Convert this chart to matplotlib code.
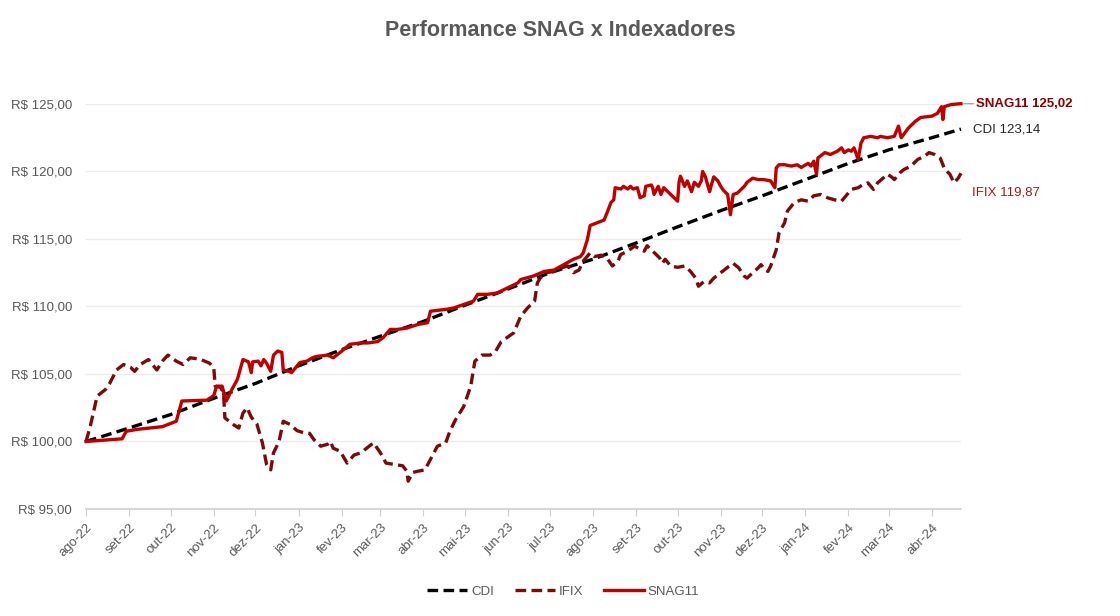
import numpy as np
import pandas as pd
import matplotlib
matplotlib.use("Agg")
from matplotlib import pyplot as plt

START = pd.Timestamp("2022-08-01")

# ---- dados ----
# dias desde 01/08/2022
cdi_days = [0, 31, 61, 92, 122, 153, 184, 212, 243, 273, 304, 334, 365, 396,
            426, 457, 487, 518, 549, 578, 609, 630]
cdi_vals = [100.0, 101.0, 102.0, 103.2, 104.3, 105.6, 106.8, 107.8, 108.9, 110.1,
            111.3, 112.5, 113.5, 114.7, 115.9, 117.1, 118.2, 119.4, 120.6, 121.6,
            122.5, 123.14]

ifix_days = [0, 3, 8, 14, 17, 22, 27, 32, 35, 39, 45, 47, 51, 55, 59, 65, 70, 75,
             82, 89, 92, 93, 97, 99, 100, 106, 110, 113, 116, 119, 123, 127, 130,
             133, 135, 139, 142, 147, 152, 157, 161, 164, 169, 174, 176, 178, 183,
             188, 193, 198, 202, 207, 212, 216, 222, 228, 231, 232, 235, 239, 244,
             248, 253, 259, 262, 266, 272, 277, 280, 285, 291, 295, 299, 306, 308,
             313, 318, 323, 325, 327, 331, 337, 342, 347, 351, 355, 358, 363, 366,
             371, 375, 379, 383, 385, 390, 395, 398, 402, 404, 407, 409, 413, 415,
             417, 421, 426, 431, 433, 436, 439, 441, 445, 449, 452, 457, 462, 466,
             470, 474, 476, 480, 484, 486, 489, 491, 493, 497, 499, 503, 505, 510,
             515, 520, 524, 529, 534, 539, 544, 546, 551, 556, 559, 563, 567, 570,
             575, 577, 580, 582, 586, 589, 594, 599, 604, 607, 611, 615, 617, 618,
             622, 625, 628, 630]
ifix_vals = [100.0, 101.1, 103.36, 103.85, 104.3, 105.3, 105.7, 105.5, 105.2, 105.7,
             106.07, 105.8, 105.3, 105.95, 106.4, 105.95, 105.7, 106.2, 106.1, 105.8,
             105.46, 104.1, 104.0, 103.6, 101.75, 101.26, 101.0, 102.1, 102.5, 101.8,
             101.3, 99.9, 98.3, 97.9, 99.16, 100.0, 101.5, 101.26, 100.8, 100.64,
             100.6, 100.15, 99.65, 99.8, 100.0, 99.5, 99.28, 98.4, 99.0, 99.16, 99.5,
             99.9, 99.16, 98.4, 98.3, 98.2, 97.8, 97.06, 97.7, 97.8, 97.9, 98.67,
             99.65, 99.9, 100.76, 101.6, 102.6, 104.1, 105.95, 106.4, 106.4, 106.7,
             107.4, 107.9, 108.05, 109.28, 109.9, 110.4, 111.75, 112.1, 112.5, 112.6,
             112.86, 113.0, 112.5, 112.7, 113.36, 113.97, 113.7, 113.8, 113.6, 113.0,
             113.36, 113.85, 114.1, 114.47, 114.3, 114.1, 114.5, 114.2, 114.0, 113.6,
             113.2, 113.5, 113.0, 112.9, 113.0, 112.86, 112.5, 112.1, 111.5, 111.85,
             111.75, 112.1, 112.5, 112.9, 113.2, 112.86, 112.25, 112.1, 112.5, 112.86,
             113.1, 112.7, 112.6, 113.0, 114.2, 115.46, 116.2, 117.06, 117.7, 117.9,
             117.8, 118.2, 118.3, 118.05, 117.9, 117.8, 118.05, 118.67, 118.8, 119.0,
             119.16, 118.67, 119.16, 119.6, 119.8, 119.6, 119.4, 119.9, 120.15, 120.4,
             120.9, 121.14, 121.4, 121.26, 121.0, 120.5, 120.2, 119.8, 119.16, 119.5,
             119.87]

snag_days = [0, 26, 29, 37, 55, 59, 65, 69, 87, 92, 94, 98, 101, 105, 109, 113, 117,
             119, 120, 124, 126, 128, 130, 133, 135, 138, 141, 142, 146, 148, 154,
             159, 163, 166, 174, 178, 183, 190, 198, 203, 210, 214, 219, 224, 231,
             239, 246, 248, 260, 265, 272, 279, 282, 289, 296, 304, 311, 313, 322,
             330, 337, 344, 351, 356, 358, 361, 363, 373, 375, 378, 380, 381, 385,
             387, 390, 392, 394, 397, 399, 402, 403, 407, 408, 409, 412, 414, 416,
             421, 423, 426, 427, 428, 431, 433, 436, 438, 441, 443, 444, 446, 449,
             450, 452, 455, 457, 459, 462, 464, 466, 469, 472, 474, 476, 480, 484,
             488, 493, 496, 497, 499, 503, 508, 512, 515, 520, 522, 524, 526, 527,
             532, 536, 541, 544, 546, 549, 551, 553, 556, 558, 560, 565, 570, 572,
             577, 582, 585, 587, 592, 597, 601, 609, 613, 616, 617, 618, 623, 628,
             630]
snag_vals = [100.0, 100.2, 100.76, 100.9, 101.1, 101.26, 101.5, 103.0, 103.06, 103.4,
             104.1, 104.1, 103.0, 103.85, 104.6, 106.07, 105.9, 105.1, 105.9, 105.95,
             105.6, 106.07, 105.8, 105.2, 106.4, 106.7, 106.6, 105.3, 105.2, 105.1,
             105.85, 105.95, 106.2, 106.3, 106.4, 106.2, 106.6, 107.2, 107.3, 107.3,
             107.4, 107.7, 108.3, 108.3, 108.4, 108.67, 108.8, 109.65, 109.8, 109.9,
             110.15, 110.4, 110.9, 110.9, 111.0, 111.4, 111.75, 112.0, 112.25, 112.6,
             112.7, 113.1, 113.5, 113.7, 113.97, 114.96, 116.0, 116.4, 116.9, 117.7,
             117.9, 118.8, 118.7, 118.9, 118.7, 118.9, 118.7, 118.8, 118.05, 118.2,
             118.9, 119.0, 118.8, 118.3, 118.9, 118.3, 118.8, 118.3, 118.1, 117.8,
             119.2, 119.65, 118.9, 119.3, 118.5, 119.2, 118.9, 119.3, 120.0, 119.6,
             118.5, 118.9, 119.6, 119.3, 118.9, 118.6, 118.3, 116.8, 118.3, 118.4,
             118.7, 118.9, 119.2, 119.5, 119.4, 119.4, 119.3, 118.8, 120.27, 120.5,
             120.5, 120.4, 120.5, 120.3, 120.6, 120.4, 120.76, 119.8, 121.0, 121.4,
             121.26, 121.5, 121.75, 121.4, 121.6, 121.5, 121.75, 120.9, 122.1, 122.5,
             122.6, 122.5, 122.6, 122.5, 122.6, 123.36, 122.5, 123.2, 123.7, 124.0,
             124.1, 124.3, 124.8, 123.85, 124.8, 124.96, 125.0, 125.02]

month_labels = ["ago-22", "set-22", "out-22", "nov-22", "dez-22", "jan-23", "fev-23",
                "mar-23", "abr-23", "mai-23", "jun-23", "jul-23", "ago-23", "set-23",
                "out-23", "nov-23", "dez-23", "jan-24", "fev-24", "mar-24", "abr-24"]
y_ticks = [95, 100, 105, 110, 115, 120, 125]


def to_dates(days):
    return START + pd.to_timedelta(days, unit="D")


def brl(v):
    return "R$ {:.2f}".format(v).replace(".", ",")


plt.rcParams["font.family"] = ["Liberation Sans", "DejaVu Sans"]

GRAY = "#595959"
RED = "#C00000"
DARKRED = "#7B0A0A"

fig = plt.figure(figsize=(11.2, 6.16), dpi=100)
ax = fig.add_axes([0.0768, 0.1737, 0.7812, 0.6575])

cdi_x = to_dates(cdi_days)
ifix_x = to_dates(ifix_days)
snag_x = to_dates(snag_days)

ax.plot(cdi_x, cdi_vals, color="black", lw=2.4, dashes=(3.2, 1.6), label="CDI",
        clip_on=False, zorder=3)
ax.plot(ifix_x, ifix_vals, color=DARKRED, lw=2.4, dashes=(3.2, 1.6), label="IFIX",
        clip_on=False, zorder=3)
ax.plot(snag_x, snag_vals, color=RED, lw=2.4, label="SNAG11",
        solid_joinstyle="round", clip_on=False, zorder=4)

ax.set_ylim(95, 125)
ax.set_xlim(START, to_dates([630])[0])
ax.set_yticks(y_ticks)
ax.set_yticklabels([brl(v) for v in y_ticks])
month_ticks = pd.date_range("2022-08-01", periods=len(month_labels), freq="MS")
ax.set_xticks(month_ticks)
ax.set_xticklabels(month_labels, rotation=45, ha="right", rotation_mode="anchor")

ax.grid(axis="y", color="#ececec", lw=1)
ax.set_axisbelow(True)
for s in ["top", "right", "left"]:
    ax.spines[s].set_visible(False)
ax.spines["bottom"].set_color("#d0d0d0")
ax.spines["bottom"].set_linewidth(1.2)
ax.tick_params(axis="y", length=0, pad=10, labelsize=9.5, labelcolor=GRAY)
ax.tick_params(axis="x", length=5, color="#d0d0d0", labelsize=9.5, labelcolor=GRAY,
               pad=4)

fig.suptitle("Performance SNAG x Indexadores", x=0.5, y=0.968, fontsize=15.5,
             fontweight="bold", color=GRAY)

# rotulos finais
end_x = snag_x[-1]
ax.annotate("", xy=(end_x, snag_vals[-1]), xytext=(11, 0), textcoords="offset points",
            arrowprops=dict(arrowstyle="-", color="#a6a6a6", lw=1))
ax.annotate("SNAG11 125,02", xy=(end_x, snag_vals[-1]), xytext=(11, 0),
            textcoords="offset points", va="center", ha="left", fontsize=9.5,
            fontweight="bold", color="#8B0000", annotation_clip=False)
ax.annotate("CDI 123,14", xy=(end_x, cdi_vals[-1]), xytext=(9, 0),
            textcoords="offset points", va="center", ha="left", fontsize=9.5,
            color="#262626", annotation_clip=False)
ax.annotate("IFIX 119,87", xy=(end_x, ifix_vals[-1]), xytext=(8, -14),
            textcoords="offset points", va="center", ha="left", fontsize=9.5,
            color="#9B1B1B", annotation_clip=False)

leg = ax.legend(loc="lower center", bbox_to_anchor=(0.503, 0.01),
                bbox_transform=fig.transFigure, ncol=3, frameon=False, fontsize=9.5,
                handlelength=3.0, columnspacing=1.6, handletextpad=0.3)
for t in leg.get_texts():
    t.set_color(GRAY)

fig.savefig("out.png", dpi=100)
